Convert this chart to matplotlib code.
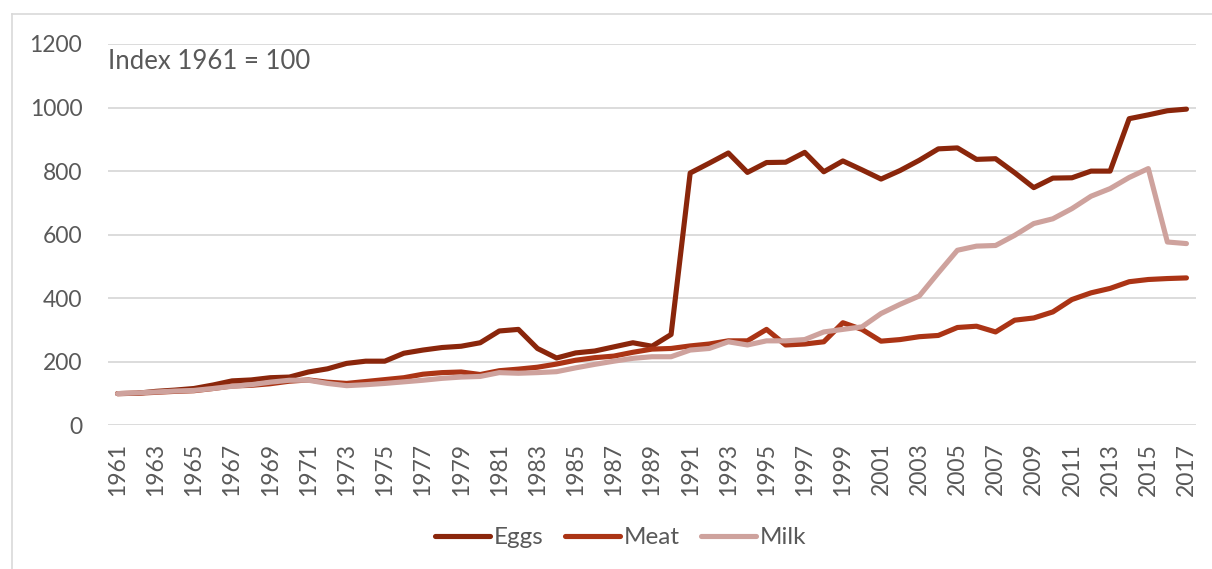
import matplotlib.pyplot as plt
from matplotlib.lines import Line2D

years = list(range(1961, 2018))

eggs = [100, 101, 107, 111, 116, 127, 140, 143, 150, 152,
        168, 178, 195, 202, 202, 227, 237, 245, 249, 260,
        297, 302, 242, 212, 228, 234, 247, 260, 249, 286,
        794, 825, 857, 796, 827, 828, 859, 798, 832, 804,
        775, 802, 834, 870, 873, 837, 839, 795, 748, 778,
        779, 800, 800, 965, 977, 990, 995]

meat = [100, 101, 104, 107, 109, 116, 124, 126, 131, 139,
        143, 136, 132, 138, 144, 150, 161, 166, 168, 160,
        172, 177, 183, 193, 205, 213, 218, 230, 240, 242,
        250, 256, 266, 266, 302, 253, 256, 263, 323, 302,
        265, 270, 279, 283, 308, 312, 294, 331, 338, 357,
        396, 417, 431, 452, 459, 462, 464]

milk = [100, 102, 105, 108, 110, 116, 123, 128, 136, 142,
        142, 132, 125, 128, 132, 137, 142, 148, 152, 154,
        166, 164, 166, 169, 181, 192, 202, 211, 216, 216,
        237, 242, 263, 253, 266, 266, 270, 294, 302, 310,
        352, 381, 407, 480, 551, 564, 566, 598, 635, 650,
        682, 721, 745, 780, 808, 577, 572]

series = ['Eggs', 'Meat', 'Milk']
colors = ['#8A260B', '#AB3415', '#CEA29D']

plt.rcParams['font.family'] = ['Lato', 'DejaVu Sans']
text_color = '#595959'

fig = plt.figure(figsize=(12.12, 5.69), dpi=100)
ax = fig.add_axes([0.0891, 0.2524, 0.8977, 0.6703])

for name, vals, col in zip(series, [eggs, meat, milk], colors):
    ax.plot(years, vals, color=col, lw=3.7, label=name,
            solid_capstyle='round', solid_joinstyle='round')

ax.set_xlim(1960.5, 2017.5)
ax.set_ylim(0, 1200)
ax.set_yticks(range(0, 1201, 200))
ax.set_xticks(years[::2])
ax.set_xticklabels([str(y) for y in years[::2]], rotation=90)
ax.grid(axis='y', color='#D9D9D9', lw=1.3)
ax.set_axisbelow(True)
for s in ax.spines.values():
    s.set_visible(False)
ax.tick_params(axis='both', length=0, labelsize=16.5, colors=text_color)
ax.tick_params(axis='y', pad=18.5)
ax.tick_params(axis='x', pad=12.5)

ax.text(0.0, 0.955, 'Index 1961 = 100', transform=ax.transAxes,
        fontsize=18.5, color=text_color, va='center', ha='left')

handles = [Line2D([], [], color=c, lw=3.7, solid_capstyle='round') for c in colors]
fig.legend(handles, series, loc='center', bbox_to_anchor=(0.512, 0.055),
           ncol=3, frameon=False, fontsize=17.5, labelcolor=text_color,
           handlelength=2.25, handletextpad=0.15, columnspacing=0.9)

# chart border (only left and top edges fall inside the image)
fig.add_artist(Line2D([12 / 1212, 12 / 1212], [0, 1 - 14 / 569],
                      transform=fig.transFigure, color='#D9D9D9', lw=1.2))
fig.add_artist(Line2D([12 / 1212, 1], [1 - 14 / 569, 1 - 14 / 569],
                      transform=fig.transFigure, color='#D9D9D9', lw=1.2))

fig.savefig('out.png', dpi=100)
